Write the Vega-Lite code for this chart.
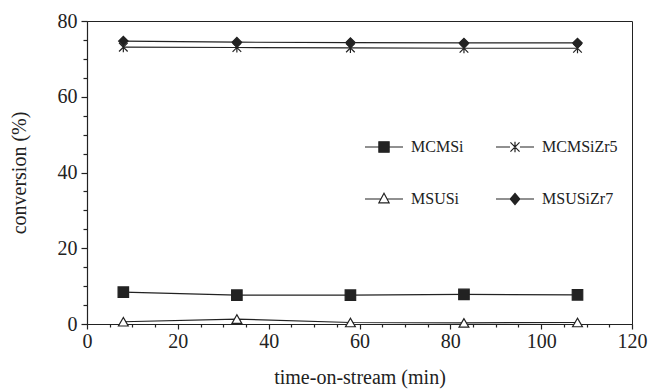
{
  "$schema": "https://vega.github.io/schema/vega-lite/v6.json",
  "width": 545,
  "height": 303,
  "autosize": {"type": "none"},
  "padding": {"left": 87, "top": 21, "right": 19, "bottom": 65},
  "background": "white",
  "config": {
    "view": {"stroke": "#222", "strokeWidth": 1},
    "font": "Liberation Serif"
  },
  "data": {
    "values": [
      {"series": "MCMSi", "time": 8, "conversion": 8.4},
      {"series": "MCMSi", "time": 33, "conversion": 7.6},
      {"series": "MCMSi", "time": 58, "conversion": 7.6},
      {"series": "MCMSi", "time": 83, "conversion": 7.8},
      {"series": "MCMSi", "time": 108, "conversion": 7.7},
      {"series": "MCMSiZr5", "time": 8, "conversion": 73.1},
      {"series": "MCMSiZr5", "time": 33, "conversion": 73.0},
      {"series": "MCMSiZr5", "time": 58, "conversion": 72.9},
      {"series": "MCMSiZr5", "time": 83, "conversion": 72.8},
      {"series": "MCMSiZr5", "time": 108, "conversion": 72.8},
      {"series": "MSUSi", "time": 8, "conversion": 0.6},
      {"series": "MSUSi", "time": 33, "conversion": 1.3},
      {"series": "MSUSi", "time": 58, "conversion": 0.4},
      {"series": "MSUSi", "time": 83, "conversion": 0.3},
      {"series": "MSUSi", "time": 108, "conversion": 0.4},
      {"series": "MSUSiZr7", "time": 8, "conversion": 74.7},
      {"series": "MSUSiZr7", "time": 33, "conversion": 74.4},
      {"series": "MSUSiZr7", "time": 58, "conversion": 74.3},
      {"series": "MSUSiZr7", "time": 83, "conversion": 74.2},
      {"series": "MSUSiZr7", "time": 108, "conversion": 74.2}
    ]
  },
  "layer": [
    {
      "mark": {"type": "line", "color": "#222", "strokeWidth": 1.2},
      "encoding": {
        "x": {
          "field": "time", "type": "quantitative",
          "scale": {"domain": [0, 120], "nice": false, "zero": false},
          "axis": {
            "orient": "bottom", "values": [0, 20, 40, 60, 80, 100, 120],
            "title": "time-on-stream (min)", "grid": false,
            "tickSize": 5, "tickColor": "#222", "tickWidth": 1.2,
            "domainColor": "#222", "domainWidth": 1.2,
            "labelFont": "Liberation Serif", "labelFontSize": 20, "labelColor": "#222",
            "labelPadding": 2, "labelFlush": false,
            "titleFont": "Liberation Serif", "titleFontSize": 20, "titleFontWeight": "normal",
            "titleColor": "#222", "titlePadding": 16
          }
        },
        "y": {
          "field": "conversion", "type": "quantitative",
          "scale": {"domain": [0, 80], "nice": false},
          "axis": {
            "orient": "left", "values": [0, 20, 40, 60, 80],
            "title": "conversion (%)", "grid": false,
            "tickSize": 6, "tickColor": "#222", "tickWidth": 1.2,
            "domainColor": "#222", "domainWidth": 1.2,
            "labelFont": "Liberation Serif", "labelFontSize": 20, "labelColor": "#222",
            "labelPadding": 4, "labelFlush": false,
            "titleFont": "Liberation Serif", "titleFontSize": 20, "titleFontWeight": "normal",
            "titleColor": "#222", "titlePadding": 28
          }
        },
        "detail": {"field": "series"}
      }
    },
    {
      "mark": {"type": "point", "filled": true, "stroke": "#222", "strokeWidth": 1.2, "opacity": 1},
      "encoding": {
        "x": {
          "field": "time", "type": "quantitative",
          "scale": {"domain": [0, 120], "nice": false, "zero": false},
          "axis": {
            "orient": "bottom",
            "values": [5, 10, 15, 25, 30, 35, 45, 50, 55, 65, 70, 75, 85, 90, 95, 105, 110, 115],
            "labels": false, "domain": false, "title": null, "grid": false,
            "tickSize": 3, "tickColor": "#222", "tickWidth": 1.2
          }
        },
        "y": {
          "field": "conversion", "type": "quantitative",
          "scale": {"domain": [0, 80], "nice": false},
          "axis": {
            "orient": "left",
            "values": [5, 10, 15, 25, 30, 35, 45, 50, 55, 65, 70, 75],
            "labels": false, "domain": false, "title": null, "grid": false,
            "tickSize": 4, "tickColor": "#222", "tickWidth": 1.2
          }
        },
        "shape": {
          "field": "series", "type": "nominal",
          "scale": {
            "domain": ["MCMSi", "MCMSiZr5", "MSUSi", "MSUSiZr7"],
            "range": [
              "square",
              "M0,-1V1M-0.85,-0.85L0.85,0.85M-0.85,0.85L0.85,-0.85",
              "triangle-up",
              "diamond"
            ]
          },
          "legend": null
        },
        "size": {
          "field": "series", "type": "nominal",
          "scale": {
            "domain": ["MCMSi", "MCMSiZr5", "MSUSi", "MSUSiZr7"],
            "range": [110, 90, 90, 120]
          },
          "legend": null
        },
        "fill": {
          "field": "series", "type": "nominal",
          "scale": {
            "domain": ["MCMSi", "MCMSiZr5", "MSUSi", "MSUSiZr7"],
            "range": ["#222", "#222", "#ffffff", "#222"]
          },
          "legend": null
        }
      }
    },
    {
      "mark": {"type": "point", "opacity": 0, "filled": true, "stroke": "#222", "strokeWidth": 1.2},
      "encoding": {
        "x": {"field": "time", "type": "quantitative", "scale": {"domain": [0, 120], "nice": false, "zero": false}, "axis": null},
        "y": {"field": "conversion", "type": "quantitative", "scale": {"domain": [0, 80], "nice": false}, "axis": null},
        "shape": {
          "field": "series", "type": "nominal",
          "scale": {
            "domain": ["MCMSi", "MCMSiZr5", "MSUSi", "MSUSiZr7"],
            "range": [
              "M-1,0H1M-0.27,-0.27H0.27V0.27H-0.27Z",
              "M-1,0H-0.26M0.26,0H1M0,-0.28V0.28M-0.24,-0.24L0.24,0.24M-0.24,0.24L0.24,-0.24",
              "M-1,0H-0.17M0.17,0H1M0,-0.3L0.27,0.2H-0.27Z",
              "M-1,0H1M0,-0.29L0.25,0L0,0.29L-0.25,0Z"
            ]
          },
          "legend": {
            "title": null,
            "orient": "none",
            "legendX": 277,
            "legendY": 106,
            "direction": "horizontal",
            "columns": 2,
            "padding": 0,
            "symbolSize": 1444,
            "symbolStrokeWidth": 1.2,
            "symbolStrokeColor": "#222",
            "symbolOpacity": 1,
            "labelFont": "Liberation Serif",
            "labelFontSize": 16,
            "labelColor": "#222",
            "labelOffset": 7,
            "labelBaseline": "middle",
            "rowPadding": 24,
            "columnPadding": 29,
            "encode": {"symbols": {"update": {"stroke": {"value": "#222"}, "strokeWidth": {"value": 1.2}, "opacity": {"value": 1}}}}
          }
        },
        "fill": {
          "field": "series", "type": "nominal",
          "scale": {
            "domain": ["MCMSi", "MCMSiZr5", "MSUSi", "MSUSiZr7"],
            "range": ["#222", "#222", "#ffffff", "#222"]
          },
          "legend": {
            "title": null,
            "orient": "none",
            "legendX": 277,
            "legendY": 106,
            "direction": "horizontal",
            "columns": 2,
            "padding": 0,
            "symbolSize": 1444,
            "symbolStrokeWidth": 1.2,
            "symbolStrokeColor": "#222",
            "symbolOpacity": 1,
            "labelFont": "Liberation Serif",
            "labelFontSize": 16,
            "labelColor": "#222",
            "labelOffset": 7,
            "labelBaseline": "middle",
            "rowPadding": 24,
            "columnPadding": 29,
            "encode": {"symbols": {"update": {"stroke": {"value": "#222"}, "strokeWidth": {"value": 1.2}, "opacity": {"value": 1}}}}
          }
        }
      }
    }
  ],
  "resolve": {
    "scale": {"shape": "independent", "fill": "independent"},
    "axis": {"x": "independent", "y": "independent"}
  }
}
